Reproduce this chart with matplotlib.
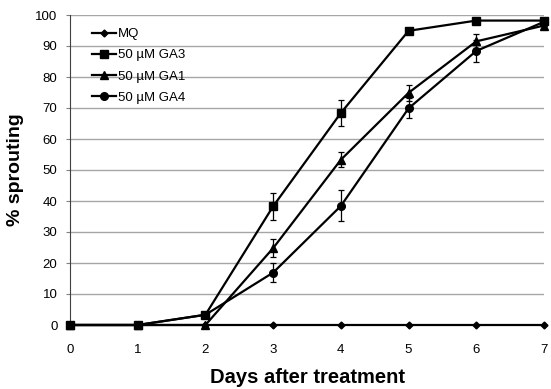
import matplotlib
matplotlib.use("Agg")
import matplotlib.pyplot as plt

plt.rcParams['font.family'] = ['Liberation Sans', 'DejaVu Sans']

days = [0, 1, 2, 3, 4, 5, 6, 7]
mq = [0, 0, 0, 0, 0, 0, 0, 0]
ga3 = [0, 0, 3.3, 38.3, 68.4, 94.9, 98.2, 98.2]
ga3_err = [0, 0, 0, 4.4, 4.3, 0, 0, 0]
ga1 = [0, 0, 0, 24.8, 53.3, 74.9, 91.5, 96.6]
ga1_err = [0, 0, 0, 2.8, 2.4, 2.6, 2.4, 0]
ga4 = [0, 0, 3.3, 16.9, 38.4, 69.9, 88.4, 97.8]
ga4_err = [0, 0, 0, 3.0, 5.0, 3.2, 3.4, 0]
labels = ['MQ', '50 µM GA3', '50 µM GA1', '50 µM GA4']
yticks = [0, 10, 20, 30, 40, 50, 60, 70, 80, 90, 100]

W, H = 551, 389
fig = plt.figure(figsize=(W/100, H/100), dpi=100)
ax = fig.add_axes([70/W, 1-325/H, (544-70)/W, (325-15)/H])

for y in yticks[1:]:
    ax.axhline(y, color='#a6a6a6', lw=1.0, zorder=0)

common = dict(color='black', lw=1.6, clip_on=False, zorder=3)
l0, = ax.plot(days, mq, marker='D', ms=3.5, **common)
eb = dict(capsize=2.2, elinewidth=0.9, capthick=0.9, ecolor='black')
c1 = ax.errorbar(days, ga3, yerr=ga3_err, marker='s', ms=5.2, **eb, **common)
c2 = ax.errorbar(days, ga1, yerr=ga1_err, marker='^', ms=6, **eb, **common)
c3 = ax.errorbar(days, ga4, yerr=ga4_err, marker='o', ms=5.5, **eb, **common)

ax.set_xlim(0, 7)
ax.set_ylim(0, 100)
ax.set_yticks(yticks)
ax.set_xticks(days)
for s in ['top', 'right', 'bottom']:
    ax.spines[s].set_visible(False)
ax.spines['left'].set_color('#404040')
ax.tick_params(axis='y', length=3, color='#808080', labelsize=9.5, direction='out', pad=6)
ax.tick_params(axis='x', length=0, labelsize=9.5, pad=14)
ax.set_xlabel('Days after treatment', fontsize=14.5, fontweight='bold', labelpad=8)
ax.set_ylabel('% sprouting', fontsize=14, fontweight='bold', labelpad=8)

handles = [l0, c1[0], c2[0], c3[0]]
ax.legend(handles, labels, loc='upper left', bbox_to_anchor=(0.035, 0.975),
          borderaxespad=0, frameon=False, fontsize=9.5, handlelength=1.8,
          handletextpad=0.15, labelspacing=0.68)

fig.savefig('out.png', dpi=100)
